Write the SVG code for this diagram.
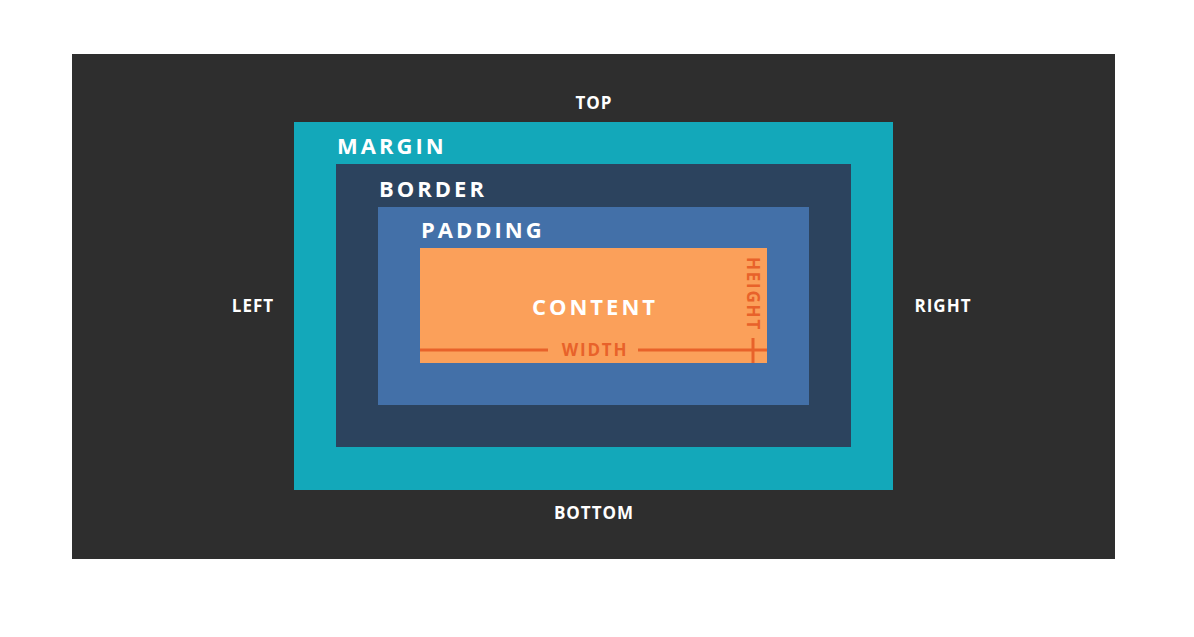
<svg xmlns="http://www.w3.org/2000/svg" width="1194" height="637" viewBox="0 0 1194 637">
<style>
text{font-family:"Open Sans","Liberation Sans",sans-serif;font-weight:700;fill:#ffffff}
.side{font-size:17px;letter-spacing:1px}
.lbl{font-size:22px;letter-spacing:3px}
.dim{fill:#e8622a;font-size:17px;letter-spacing:1.8px}
.ln{stroke:#e8622a;stroke-width:3;fill:none}
</style>
<rect x="0" y="0" width="1194" height="637" fill="#ffffff"/>
<rect x="72" y="54" width="1043" height="505" fill="#2e2e2e"/>
<g id="side-labels">
<text class="side" x="594" y="109" text-anchor="middle">TOP</text>
<text class="side" x="253" y="312" text-anchor="middle">LEFT</text>
<text class="side" x="943" y="312" text-anchor="middle">RIGHT</text>
<text class="side" x="594" y="519" text-anchor="middle">BOTTOM</text>
</g>
<g id="margin">
<rect x="294" y="122" width="599" height="368" fill="#13a8ba"/>
<text class="lbl" x="337" y="154">MARGIN</text>
</g>
<g id="border">
<rect x="336" y="164" width="515" height="283" fill="#2c435e"/>
<text class="lbl" x="379" y="197">BORDER</text>
</g>
<g id="padding">
<rect x="378" y="207" width="431" height="198" fill="#4370a8"/>
<text class="lbl" x="421" y="238">PADDING</text>
</g>
<g id="content">
<rect x="420" y="248" width="347" height="115" fill="#fba05a"/>
<text class="lbl" x="595" y="315" text-anchor="middle">CONTENT</text>
</g>
<g id="dimensions">
<line class="ln" x1="420" y1="350" x2="548" y2="350"/>
<line class="ln" x1="638" y1="350" x2="767" y2="350"/>
<line class="ln" x1="753" y1="338" x2="753" y2="363"/>
<text class="dim" x="595" y="356" text-anchor="middle">WIDTH</text>
<text class="dim" x="0" y="0" text-anchor="middle" transform="translate(747 294) rotate(90)">HEIGHT</text>
</g>
</svg>
